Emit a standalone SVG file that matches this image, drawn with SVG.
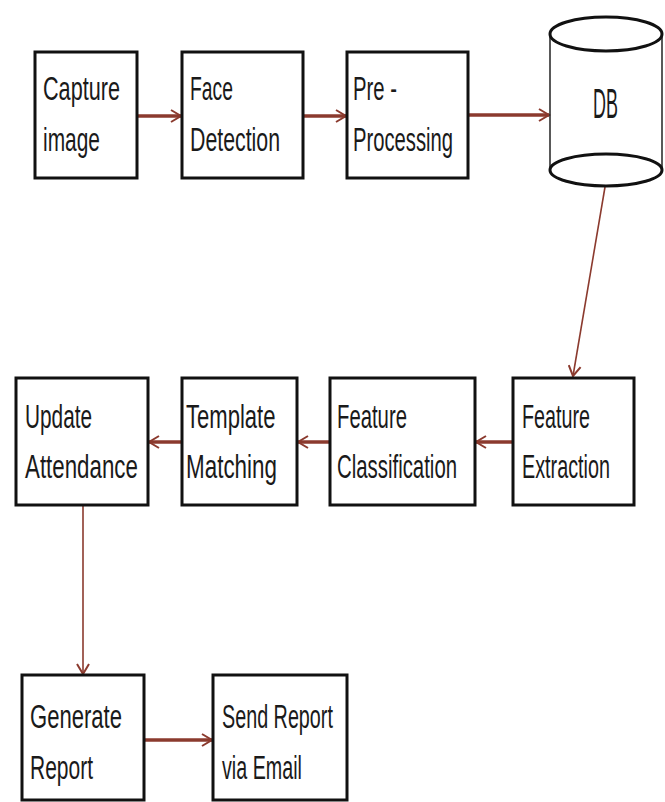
<svg xmlns="http://www.w3.org/2000/svg" width="665" height="802" viewBox="0 0 665 802">
<defs>
<style>
.box{fill:#fff;stroke:#111;stroke-width:3}
.t{font-family:"Liberation Sans",Arial,sans-serif;font-size:26px;fill:#1a1a1a;}
.c{stroke:#8b3a2e;fill:none}
.thick{stroke-width:3.5}
.thin{stroke-width:1.6}
.cyl{fill:#fff;stroke:#111;stroke-width:3}
.side{stroke:#222;stroke-width:1.5}
</style>
<marker id="ah" markerWidth="14" markerHeight="14" refX="11" refY="7" orient="auto" markerUnits="userSpaceOnUse">
<path d="M1,1 L11,7 L1,13" fill="none" stroke="#8b3a2e" stroke-width="2"/>
</marker>
</defs>
<rect width="665" height="802" fill="#fff"/>
<g id="connectors">
<line class="c thick" x1="137" y1="116" x2="181" y2="116" marker-end="url(#ah)"/>
<line class="c thick" x1="303" y1="116" x2="346" y2="116" marker-end="url(#ah)"/>
<line class="c thick" x1="468" y1="115" x2="549" y2="115" marker-end="url(#ah)"/>
<line class="c thin" x1="605" y1="187" x2="573" y2="376" marker-end="url(#ah)"/>
<line class="c thick" x1="513" y1="442" x2="476" y2="442" marker-end="url(#ah)"/>
<line class="c thick" x1="330" y1="442" x2="298" y2="442" marker-end="url(#ah)"/>
<line class="c thick" x1="182" y1="442" x2="149" y2="442" marker-end="url(#ah)"/>
<line class="c thin" x1="83" y1="505" x2="83" y2="674" marker-end="url(#ah)"/>
<line class="c thick" x1="144" y1="740" x2="212" y2="740" marker-end="url(#ah)"/>
</g>
<g id="capture">
<rect class="box" x="35" y="52" width="102" height="126"/>
<text class="t" transform="translate(43,100) scale(0.832,1.3)">Capture</text>
<text class="t" transform="translate(43,151) scale(0.805,1.3)">image</text>
</g>
<g id="face">
<rect class="box" x="182" y="52" width="121" height="126"/>
<text class="t" transform="translate(190,100) scale(0.744,1.3)">Face</text>
<text class="t" transform="translate(190,151) scale(0.82,1.3)">Detection</text>
</g>
<g id="preprocessing">
<rect class="box" x="347" y="52" width="121" height="126"/>
<text class="t" transform="translate(353,100) scale(0.78,1.3)">Pre -</text>
<text class="t" transform="translate(353,151) scale(0.778,1.3)">Processing</text>
</g>
<g id="db">
<line class="side" x1="550" y1="34" x2="550" y2="170"/>
<line class="side" x1="662" y1="34" x2="662" y2="170"/>
<ellipse class="cyl" cx="606" cy="34" rx="56" ry="17"/>
<ellipse class="cyl" cx="606" cy="170" rx="56" ry="16"/>
<text class="t" transform="translate(593,118) scale(0.69,1.65)">DB</text>
</g>
<g id="feature-extraction">
<rect class="box" x="513" y="378" width="121" height="127"/>
<text class="t" transform="translate(522,428) scale(0.759,1.3)">Feature</text>
<text class="t" transform="translate(522,478) scale(0.761,1.3)">Extraction</text>
</g>
<g id="feature-classification">
<rect class="box" x="330" y="378" width="145" height="127"/>
<text class="t" transform="translate(337,428) scale(0.781,1.3)">Feature</text>
<text class="t" transform="translate(337,478) scale(0.784,1.3)">Classification</text>
</g>
<g id="template-matching">
<rect class="box" x="182" y="378" width="115" height="127"/>
<text class="t" transform="translate(186,428) scale(0.849,1.3)">Template</text>
<text class="t" transform="translate(186,478) scale(0.863,1.3)">Matching</text>
</g>
<g id="update-attendance">
<rect class="box" x="16" y="378" width="132" height="127"/>
<text class="t" transform="translate(25,428) scale(0.8,1.3)">Update</text>
<text class="t" transform="translate(25,478) scale(0.859,1.3)">Attendance</text>
</g>
<g id="generate-report">
<rect class="box" x="22" y="675" width="122" height="125"/>
<text class="t" transform="translate(30,728) scale(0.849,1.3)">Generate</text>
<text class="t" transform="translate(30,779) scale(0.808,1.3)">Report</text>
</g>
<g id="send-report">
<rect class="box" x="213" y="675" width="134" height="125"/>
<text class="t" transform="translate(222,728) scale(0.76,1.3)">Send Report</text>
<text class="t" transform="translate(222,779) scale(0.758,1.3)">via Email</text>
</g>
</svg>
